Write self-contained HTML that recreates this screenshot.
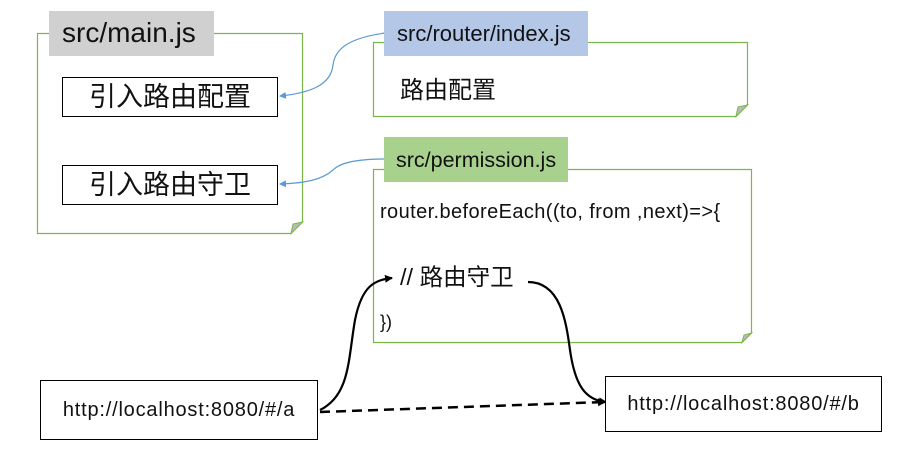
<!DOCTYPE html>
<html><head><meta charset="utf-8"><style>
body{margin:0;background:#fff;width:914px;height:449px;overflow:hidden;position:relative;font-family:"Liberation Sans","Noto Sans CJK SC",sans-serif;}
.a{position:absolute;box-sizing:border-box;}
.t{position:absolute;white-space:nowrap;color:#111;}
</style></head><body>
<svg class="a" style="left:0;top:0" width="914" height="449">
 <defs>
  <marker id="bk" markerWidth="8" markerHeight="8" refX="7" refY="4" orient="auto" markerUnits="userSpaceOnUse"><path d="M0,0 L8,4 L0,8 z" fill="#000"/></marker>
  <marker id="bl" markerWidth="7" markerHeight="7" refX="6" refY="3.5" orient="auto" markerUnits="userSpaceOnUse"><path d="M0,0 L7,3.5 L0,7 z" fill="#5b9bd5"/></marker>
 </defs>
 <path d="M37.5,33.5 H302.5 V222 L291,233.5 H37.5 Z" fill="#fff" stroke="#7ab648" stroke-width="1.2"/>
 <path d="M302.5,222 L291,233.5 L293,224 Z" fill="#bbb" stroke="#7ab648"/>
 <path d="M373.5,42.5 H747.5 V105 L736,116.5 H373.5 Z" fill="#fff" stroke="#7ab648" stroke-width="1.2"/>
 <path d="M747.5,105 L736,116.5 L738,107 Z" fill="#bbb" stroke="#7ab648"/>
 <path d="M373.5,169.5 H751.5 V333 L742,342.5 H373.5 Z" fill="#fff" stroke="#7ab648" stroke-width="1.2"/>
 <path d="M751.5,333 L742,342.5 L744,335 Z" fill="#bbb" stroke="#7ab648"/>
 <path d="M385,33 C350,38 335,48 333,65 C331,85 310,93 280,96" fill="none" stroke="#5b9bd5" stroke-width="1.2" marker-end="url(#bl)"/>
 <path d="M385,159 C355,159 340,163 333,170 C322,180 305,183 280,184" fill="none" stroke="#5b9bd5" stroke-width="1.2" marker-end="url(#bl)"/>
 <path d="M320,410 C350,395 348,360 355,320 C362,285 375,280 392,278" fill="none" stroke="#000" stroke-width="2.2" marker-end="url(#bk)"/>
 <path d="M528,282 C560,282 566,320 570,350 C575,385 585,400 606,402" fill="none" stroke="#000" stroke-width="2.2" marker-end="url(#bk)"/>
 <path d="M320,412 L605,402" fill="none" stroke="#000" stroke-width="2.5" stroke-dasharray="10,6" marker-end="url(#bk)"/>
</svg>
<div class="a" style="left:49px;top:11px;width:165px;height:45px;background:#d0d0d0"></div>
<div class="t" style="left:62px;top:15px;font-size:28px;line-height:36px">src/main.js</div>
<div class="a" style="left:62px;top:77px;width:216px;height:40px;border:1.5px solid #000;background:#fff"></div>
<div class="t" style="left:62px;top:78px;width:216px;text-align:center;font-size:27px;line-height:38px">引入路由配置</div>
<div class="a" style="left:62px;top:165px;width:216px;height:40px;border:1.5px solid #000;background:#fff"></div>
<div class="t" style="left:62px;top:166px;width:216px;text-align:center;font-size:27px;line-height:38px">引入路由守卫</div>
<div class="a" style="left:384px;top:11px;width:204px;height:45px;background:#b4c7e7"></div>
<div class="t" style="left:397px;top:19px;font-size:22px;line-height:30px">src/router/index.js</div>
<div class="t" style="left:400px;top:76px;font-size:24px;line-height:30px">路由配置</div>
<div class="a" style="left:384px;top:137px;width:184px;height:45px;background:#a9d18e"></div>
<div class="t" style="left:396px;top:145px;font-size:21.5px;line-height:30px">src/permission.js</div>
<div class="t" style="left:380px;top:199px;font-size:20px;letter-spacing:0.4px;line-height:26px">router.beforeEach((to, from ,next)=&gt;{</div>
<div class="t" style="left:400px;top:262px;font-size:23.5px;line-height:30px">// 路由守卫</div>
<div class="t" style="left:380px;top:309px;font-size:18px;line-height:26px">})</div>
<div class="a" style="left:40px;top:380px;width:278px;height:60px;border:1.5px solid #000;background:#fff"></div>
<div class="t" style="left:40px;top:397px;width:278px;text-align:center;font-size:20px;letter-spacing:0.8px;line-height:26px">http://localhost:8080/#/a</div>
<div class="a" style="left:605px;top:376px;width:277px;height:56px;border:1.5px solid #000;background:#fff"></div>
<div class="t" style="left:605px;top:391px;width:277px;text-align:center;font-size:20px;letter-spacing:0.8px;line-height:26px">http://localhost:8080/#/b</div>
</body></html>
